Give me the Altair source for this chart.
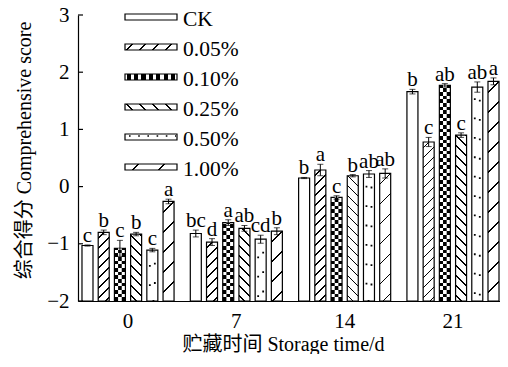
import math
import altair as alt

# ---------------- data ----------------
days = ["0", "7", "14", "21"]
series = ["CK", "0.05%", "0.10%", "0.25%", "0.50%", "1.00%"]

score_ck = [-1.03, -0.82, 0.15, 1.66]
score_005 = [-0.80, -0.97, 0.29, 0.78]
score_010 = [-1.08, -0.63, -0.19, 1.77]
score_025 = [-0.83, -0.73, 0.19, 0.90]
score_050 = [-1.11, -0.92, 0.22, 1.74]
score_100 = [-0.26, -0.78, 0.23, 1.84]

err_ck = [0.01, 0.06, 0.01, 0.04]
err_005 = [0.04, 0.06, 0.10, 0.08]
err_010 = [0.14, 0.05, 0.03, 0.03]
err_025 = [0.03, 0.05, 0.02, 0.04]
err_050 = [0.03, 0.07, 0.06, 0.09]
err_100 = [0.04, 0.06, 0.08, 0.06]

let_ck = ["c", "bc", "b", "b"]
let_005 = ["b", "d", "a", "c"]
let_010 = ["c", "a", "c", "ab"]
let_025 = ["b", "ab", "b", "c"]
let_050 = ["c", "cd", "ab", "ab"]
let_100 = ["a", "b", "ab", "a"]

y_ticks = [-2, -1, 0, 1, 2, 3]

scores = [score_ck, score_005, score_010, score_025, score_050, score_100]
errs = [err_ck, err_005, err_010, err_025, err_050, err_100]
lets = [let_ck, let_005, let_010, let_025, let_050, let_100]

# ---------------- layout / pattern helpers ----------------
W, H = 422, 286
Y0, Y1 = -2, 3
PI_X, PO_X, AL_X = 0.15, 0.023, 0.8
PI_S = 0.321
step_x = W / (len(days) - PI_X + 2 * PO_X)
band_x = step_x * (1 - PI_X)
step_s = band_x / (len(series) - PI_S)
bar_w = step_s * (1 - PI_S)
cell = bar_w / 3.0

WHITE, BLACK = "#ffffff", "#000000"


def band_stops(total, period, lw, phase):
    stops = [{"offset": 0, "color": WHITE}]
    c = (phase % period) - period
    while c < total:
        a, b = max(c, 0.0), min(c + lw, total)
        if b > a:
            a, b = round(a / total, 4), round(b / total, 4)
            stops += [{"offset": a, "color": WHITE}, {"offset": a, "color": BLACK},
                      {"offset": b, "color": BLACK}, {"offset": b, "color": WHITE}]
        c += period
    stops.append({"offset": 1, "color": WHITE})
    return stops


def diag(w, h, period, lw, back=False, s=1.0):
    cmax = w + s * h
    mu = cmax / (w * w + s * s * h * h)
    g = {"gradient": "linear", "x1": 0, "x2": round(mu * w, 5),
         "stops": band_stops(cmax, period, lw, period * 0.5)}
    if back:
        g["y1"], g["y2"] = 1, round(1 - mu * s * h, 5)
    else:
        g["y1"], g["y2"] = 0, round(mu * s * h, 5)
    return g


def rows(h, period, lw, phase):
    return {"gradient": "linear", "x1": 0, "y1": 1, "x2": 0, "y2": 0,
            "stops": band_stops(h, period, lw, phase)}


def cols(w, period, lw, phase):
    return {"gradient": "linear", "x1": 0, "y1": 0, "x2": 1, "y2": 0,
            "stops": band_stops(w, period, lw, phase)}


def bar_fill(name, h):
    if name == "0.05%":
        return diag(bar_w, h, 10, 1.7)
    if name == "0.10%":
        return rows(h, 2 * cell, cell, 0)
    if name == "0.25%":
        return diag(bar_w, h, 10, 1.7, back=True)
    if name == "1.00%":
        return diag(bar_w, h, 20, 1.7)
    return WHITE


records = []
for si, name in enumerate(series):
    for di, d in enumerate(days):
        v = scores[si][di]
        e = errs[si][di]
        h = max((v - Y0) * H / (Y1 - Y0), 1.0)
        records.append({
            "day": d, "series": name, "value": v,
            "lo": v - e, "hi": v + e, "letter": lets[si][di],
            "grad": bar_fill(name, h),
            "grad2": rows(h, 2 * cell, cell, cell),
        })

LW, LH = 52, 6
legend_fill = {
    "CK": WHITE,
    "0.05%": diag(LW, LH, 13, 1.7),
    "0.10%": cols(LW, 7.4, 4.2, 1.6),
    "0.25%": diag(LW, LH, 13, 1.7, back=True),
    "0.50%": WHITE,
    "1.00%": diag(LW, LH, 26, 1.7),
}
legend_records = [{"series": s, "grad": legend_fill[s]} for s in series]
tick_records = [{"t": t} for t in y_ticks]

FONT = "Liberation Serif, Noto Sans CJK SC"

x_enc = alt.X("day:N", sort=days,
              scale=alt.Scale(domain=days, paddingInner=PI_X, paddingOuter=PO_X, align=AL_X),
              axis=alt.Axis(title="贮藏时间 Storage time/d", labelAngle=0, ticks=False,
                            labelFontSize=21, labelPadding=9, labelColor="black",
                            titleFontSize=20, titleFontWeight="normal", titleColor="black",
                            titleBaseline="top", titleX=205, titleY=33,
                            domainColor="black", domainWidth=1.2))
xo_enc = alt.XOffset("series:N", sort=series,
                     scale=alt.Scale(domain=series, paddingInner=PI_S, paddingOuter=0))
y_axis = alt.Axis(title="综合得分 Comprehensive score", values=y_ticks, format="d",
                  ticks=False, grid=False, labelFontSize=21, labelPadding=9,
                  labelColor="black", titleFontSize=20, titleFontWeight="normal",
                  titleColor="black", titlePadding=12, titleY=135,
                  domainColor="black", domainWidth=1.2)
y_scale = alt.Scale(domain=[Y0, Y1], nice=False, zero=False)

base = alt.Chart(alt.Data(values=records)).encode(x=x_enc, xOffset=xo_enc)

bars = base.mark_bar(stroke="black", strokeWidth=1.2).encode(
    y=alt.Y("value:Q", scale=y_scale, axis=y_axis, stack=None),
    y2=alt.datum(Y0),
    fill=alt.Fill("grad:N", scale=None),
)
checker_mid = base.transform_filter(alt.datum.series == "0.10%").mark_bar(
    width=cell, strokeWidth=0).encode(
    y=alt.Y("value:Q", scale=y_scale, axis=y_axis, stack=None),
    y2=alt.datum(Y0),
    fill=alt.Fill("grad2:N", scale=None),
)
dots = base.transform_filter(alt.datum.series == "0.50%").mark_bar(
    width=5, fill="transparent", stroke="black", strokeWidth=1.8,
    strokeDash=[1.8, 17.6], strokeDashOffset=1.8).encode(
    y=alt.Y("value:Q", scale=y_scale, axis=y_axis, stack=None),
    y2=alt.datum(Y0),
)
err_rule = base.mark_rule(color="black", strokeWidth=1).encode(
    y=alt.Y("lo:Q", scale=y_scale, axis=y_axis), y2="hi:Q")
cap_hi = base.mark_tick(orient="horizontal", size=6, thickness=1, color="black").encode(
    y=alt.Y("hi:Q", scale=y_scale, axis=y_axis))
cap_lo = base.mark_tick(orient="horizontal", size=6, thickness=1, color="black").encode(
    y=alt.Y("lo:Q", scale=y_scale, axis=y_axis))
letters = base.mark_text(baseline="alphabetic", dy=-3, fontSize=21, color="black").encode(
    y=alt.Y("hi:Q", scale=y_scale, axis=y_axis), text="letter:N")
inner_ticks = alt.Chart(alt.Data(values=tick_records)).mark_rule(
    color="black", strokeWidth=1.2).encode(
    y=alt.Y("t:Q", scale=y_scale, axis=y_axis), x=alt.value(0), x2=alt.value(5))

main = alt.layer(bars, checker_mid, dots, err_rule, cap_hi, cap_lo, letters, inner_ticks)

ly = alt.Y("series:N", sort=series,
           scale=alt.Scale(domain=series, range=[-1, 155], paddingInner=0.8, paddingOuter=0),
           axis=None)
lbase = alt.Chart(alt.Data(values=legend_records)).encode(y=ly)
leg_rect = lbase.mark_rect(stroke="black", strokeWidth=1.2).encode(
    x=alt.value(47), x2=alt.value(99), fill=alt.Fill("grad:N", scale=None))
leg_dots = lbase.transform_filter(alt.datum.series == "0.50%").mark_rule(
    color="black", strokeWidth=1.6, strokeDash=[1.6, 7.6], yOffset=-1).encode(
    x=alt.value(51), x2=alt.value(98))
leg_text = lbase.mark_text(align="left", baseline="middle", dy=2.5, fontSize=21.5,
                           color="black").encode(x=alt.value(105), text="series:N")
legend = alt.layer(leg_rect, leg_dots, leg_text)

chart = alt.layer(main, legend).resolve_scale(y="independent").properties(
    width=W, height=H,
    autosize=alt.AutoSizeParams(type="none"),
    padding={"left": 70, "top": 7, "right": 0, "bottom": 53},
).configure(font=FONT).configure_view(stroke=None).configure_axis(grid=False)

chart.save("out.html", embed_options={"renderer": "svg", "actions": False})
